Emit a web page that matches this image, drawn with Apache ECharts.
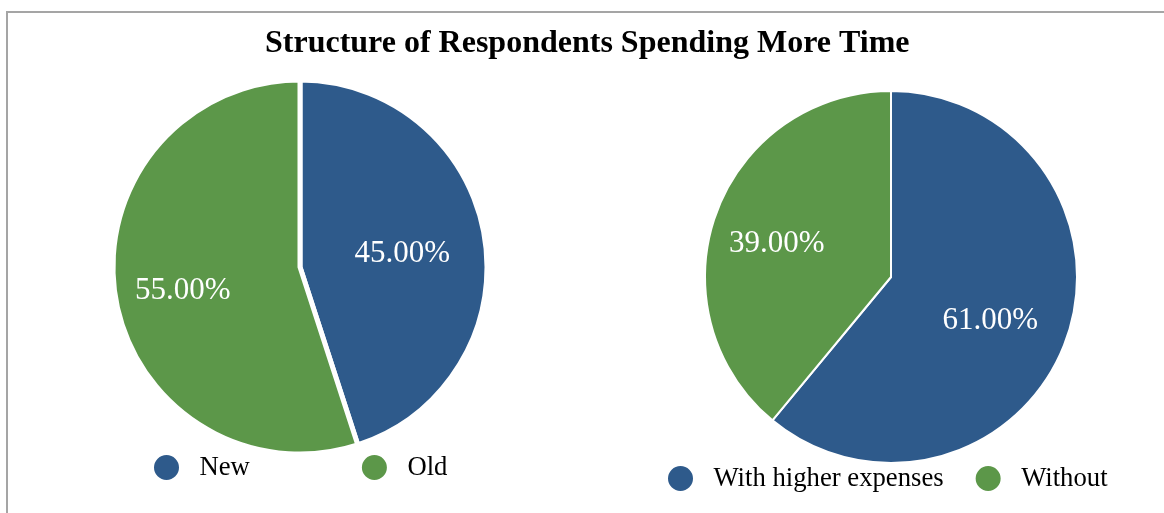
<!DOCTYPE html>
<html>
<head>
<meta charset="utf-8">
<script src="https://cdn.jsdelivr.net/npm/echarts@6/dist/echarts.min.js"></script>
<style>
  html, body { margin: 0; padding: 0; background: #ffffff; }
  #chart { width: 1164px; height: 513px; }
</style>
</head>
<body>
<div id="chart"></div>
<script>
// Respondent groups (left pie): new vs old
const ageNames = ['New', 'Old'];
const ageValues = [45, 55];

// Expense groups (right pie)
const expenseNames = ['With higher expenses', 'Without'];
const expenseValues = [61, 39];

const titleText = 'Structure of Respondents Spending More Time';

const BLUE = '#2E5A8B';
const GREEN = '#5C9749';
const SERIF = "'Liberation Serif', 'Times New Roman', serif";

// Nudges that move each percentage label toward the slice's outer area
const ageLabelOffsets = [[7, 2], [-22, 9]];
const expenseLabelOffsets = [[9, 11], [-24, -1]];

function buildData(names, values, offsets) {
  const colors = [BLUE, GREEN];
  return names.map((n, i) => ({
    name: n,
    value: values[i],
    itemStyle: { color: colors[i] },
    label: { offset: offsets[i] }
  }));
}

const labelStyle = {
  show: true,
  position: 'inside',
  color: '#ffffff',
  fontFamily: SERIF,
  fontSize: 31,
  formatter: p => p.value.toFixed(2) + '%'
};

const legendText = { fontFamily: SERIF, fontSize: 26.7, color: '#000000' };

const chart = echarts.init(document.getElementById('chart'), null, { renderer: 'canvas' });

chart.setOption({
  animation: false,
  backgroundColor: '#ffffff',
  graphic: [{
    type: 'rect',
    shape: { x: 7, y: 12, width: 1300, height: 700 },
    style: { fill: 'none', stroke: '#a5a5a5', lineWidth: 2 },
    silent: true,
    z: 0
  }],
  title: {
    text: titleText,
    left: 260,
    top: 23,
    textStyle: { fontFamily: SERIF, fontSize: 32, fontWeight: 'bold', color: '#000000' }
  },
  legend: [{
    data: ageNames,
    left: 147,
    top: 448,
    orient: 'horizontal',
    icon: 'circle',
    itemWidth: 56,
    itemHeight: 27,
    itemGap: 110,
    textStyle: legendText,
    selectedMode: false
  }, {
    data: expenseNames,
    left: 661,
    top: 459,
    orient: 'horizontal',
    icon: 'circle',
    itemWidth: 56,
    itemHeight: 27,
    itemGap: 30,
    textStyle: legendText,
    selectedMode: false
  }],
  series: [{
    type: 'pie',
    center: [300, 267],
    radius: 187,
    startAngle: 90,
    clockwise: true,
    itemStyle: { borderColor: '#ffffff', borderWidth: 5 },
    label: labelStyle,
    labelLine: { show: false },
    emphasis: { disabled: true },
    data: buildData(ageNames, ageValues, ageLabelOffsets)
  }, {
    type: 'pie',
    center: [891, 277],
    radius: 186,
    startAngle: 90,
    clockwise: true,
    itemStyle: { borderColor: '#ffffff', borderWidth: 2 },
    label: labelStyle,
    labelLine: { show: false },
    emphasis: { disabled: true },
    data: buildData(expenseNames, expenseValues, expenseLabelOffsets)
  }]
});
</script>
</body>
</html>
